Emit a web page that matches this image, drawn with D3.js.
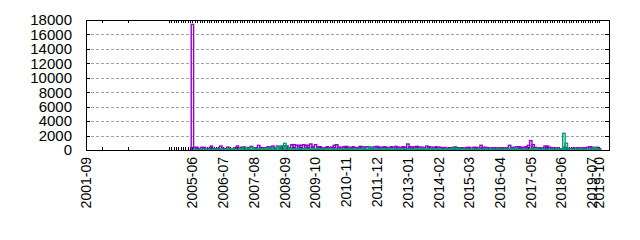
<!DOCTYPE html>
<html>
<head>
<meta charset="utf-8">
<script src="https://cdn.jsdelivr.net/npm/d3@7"></script>
<style>
  body { margin: 0; background: #fff; }
  svg { display: block; font-family: "Liberation Sans", Arial, sans-serif; }
  .grid line { stroke: #a0a0a0; stroke-dasharray: 3,2; shape-rendering: crispEdges; }
  .axis path { display: none; }
  .axis line { stroke: #000; shape-rendering: crispEdges; }
</style>
</head>
<body>
<svg id="chart"></svg>
<script>
// sparse early points, then one point per month from 2004-08 to 2019-10
var earlyMonths = ["2001-09", "2002-04", "2003-03"],
    monthlyFrom = "2004-08",
    monthlyTo   = "2019-10";

var tickLabels = ["2001-09", "2005-06", "2006-07", "2007-08", "2008-09", "2009-10",
                  "2010-11", "2011-12", "2013-01", "2014-02", "2015-03", "2016-04",
                  "2017-05", "2018-06", "2019-07", "2019-10"];

var yTicks = [0, 2000, 4000, 6000, 8000, 10000, 12000, 14000, 16000, 18000];

// purple series, early points then one row per year
var seriesA = [0, 0, 0,
  0, 0, 0, 0, 0,                                                       // 2004 (08-12)
  0, 0, 0, 0, 0, 17400, 370, 370, 180, 370, 370, 180,                  // 2005
  250, 550, 200, 180, 250, 550, 220, 200, 400, 180, 150, 300,          // 2006
  550, 250, 400, 300, 200, 350, 500, 200, 300, 640, 350, 300,          // 2007
  300, 450, 400, 550, 300, 550, 400, 550, 550, 450, 300, 740,          // 2008
  740, 650, 650, 650, 740, 650, 650, 830, 450, 740, 450, 450,          // 2009
  300, 300, 450, 350, 400, 650, 740, 400, 350, 450, 500, 400,          // 2010
  350, 450, 300, 350, 500, 450, 400, 450, 400, 350, 450, 500,          // 2011
  400, 350, 450, 400, 300, 450, 400, 500, 400, 350, 450, 400,          // 2012
  830, 450, 400, 450, 500, 400, 400, 300, 550, 450, 400, 350,          // 2013
  450, 400, 370, 300, 350, 200, 300, 350, 280, 200, 300, 300,          // 2014
  280, 350, 370, 250, 370, 370, 280, 650, 370, 370, 280, 280,          // 2015
  280, 280, 280, 280, 280, 280, 280, 650, 370, 370, 460, 460,          // 2016
  370, 370, 460, 640, 1300, 740, 370, 280, 280, 280, 550, 550,         // 2017
  370, 280, 280, 280, 180, 180, 370, 370, 200, 200, 280, 280,          // 2018
  280, 280, 280, 280, 370, 460, 370, 280, 370, 200];                   // 2019 (01-10)

// teal series, same layout
var seriesB = [0, 0, 0,
  0, 0, 0, 0, 0,
  0, 0, 0, 0, 0, 0, 60, 60, 80, 100, 100, 100,
  100, 80, 100, 120, 100, 150, 100, 100, 120, 200, 150, 100,
  100, 150, 200, 460, 200, 150, 350, 200, 150, 200, 100, 200,
  150, 250, 300, 200, 300, 400, 500, 600, 920, 600, 200, 150,
  150, 200, 150, 150, 200, 200, 150, 150, 200, 200, 150, 150,
  150, 150, 200, 150, 150, 200, 150, 200, 150, 150, 150, 200,
  150, 200, 150, 150, 200, 200, 250, 300, 370, 250, 200, 150,
  150, 150, 200, 150, 250, 200, 150, 150, 200, 150, 150, 200,
  150, 200, 150, 150, 200, 150, 250, 200, 150, 150, 200, 150,
  150, 150, 180, 100, 150, 100, 150, 150, 460, 200, 150, 150,
  100, 100, 100, 150, 100, 100, 150, 100, 100, 150, 100, 100,
  100, 100, 100, 100, 100, 100, 100, 280, 100, 280, 150, 100,
  100, 100, 100, 100, 100, 200, 200, 100, 100, 100, 100, 100,
  100, 100, 100, 100, 100, 150, 2300, 930, 150, 150, 100, 100,
  100, 150, 100, 100, 150, 100, 150, 370, 150, 100];

var width = 640, height = 240,
    margin = {top: 20, right: 31, bottom: 90, left: 86},
    innerWidth = width - margin.left - margin.right,
    innerHeight = height - margin.top - margin.bottom;

var parseMonth = d3.timeParse("%Y-%m");

var dates = earlyMonths.map(parseMonth)
  .concat(d3.timeMonth.range(parseMonth(monthlyFrom), d3.timeMonth.offset(parseMonth(monthlyTo), 1)));

var xScale = d3.scaleTime()
      .domain([parseMonth("2001-09"), parseMonth("2020-02")])
      .range([0, innerWidth]),
    yScale = d3.scaleLinear()
      .domain([0, 18000])
      .range([innerHeight, 0]);

var svg = d3.select("#chart")
    .attr("width", width)
    .attr("height", height)
  .append("g")
    .attr("transform", "translate(" + margin.left + "," + margin.top + ")");

// horizontal grid
svg.append("g")
  .attr("class", "grid")
  .call(d3.axisLeft(yScale).tickValues(yTicks).tickSize(-innerWidth).tickFormat(""))
  .call(function(g){ g.select(".domain").remove(); });

// tics first so the boxes sit on top of them
svg.append("g")
  .attr("class", "axis")
  .attr("transform", "translate(0," + innerHeight + ")")
  .call(d3.axisBottom(xScale).tickValues(dates).tickSize(-3).tickFormat(""));

svg.append("g")
  .attr("class", "axis")
  .call(d3.axisTop(xScale).tickValues(dates).tickSize(-3).tickFormat(""));

// box edges halfway between neighbouring points
function boxes(values) {
  return values.map(function(v, i) {
    var cx = xScale(dates[i]),
        left = i > 0 ? (cx + xScale(dates[i - 1])) / 2 : cx - (xScale(dates[1]) - cx) / 2,
        right = i < dates.length - 1 ? (cx + xScale(dates[i + 1])) / 2 : cx + (cx - xScale(dates[i - 1])) / 2;
    return {x0: left, x1: right, v: v};
  });
}

function drawSeries(values, color) {
  svg.append("g")
    .selectAll("rect")
    .data(boxes(values).filter(function(d){ return d.v > 0; }))
    .enter().append("rect")
      .attr("x", function(d){ return d.x0; })
      .attr("y", function(d){ return yScale(d.v); })
      .attr("width", function(d){ return d.x1 - d.x0; })
      .attr("height", function(d){ return innerHeight - yScale(d.v); })
      .attr("fill", "none")
      .attr("stroke", color)
      .attr("stroke-width", 1.4);
}

drawSeries(seriesA, "#9400d3");
drawSeries(seriesB, "#009e73");

// y axes with inward tics, mirrored on the right
svg.append("g")
  .attr("class", "axis")
  .call(d3.axisLeft(yScale).tickValues(yTicks).tickSize(-4).tickPadding(14).tickFormat(d3.format("d")))
  .selectAll("text")
    .style("font-size", "15px")
    .attr("fill", "#000");

svg.append("g")
  .attr("class", "axis")
  .attr("transform", "translate(" + innerWidth + ",0)")
  .call(d3.axisRight(yScale).tickValues(yTicks).tickSize(-4).tickFormat(""));

svg.append("g")
  .selectAll("text")
  .data(tickLabels)
  .enter().append("text")
    .attr("transform", function(d){
      return "translate(" + xScale(parseMonth(d)) + "," + (innerHeight + 7) + ") rotate(-90)";
    })
    .attr("dy", "0.35em")
    .attr("text-anchor", "end")
    .style("font-size", "14px")
    .text(function(d){ return d; });

// frame
svg.append("rect")
  .attr("x", 0.5)
  .attr("y", 0.5)
  .attr("width", innerWidth)
  .attr("height", innerHeight)
  .attr("fill", "none")
  .attr("stroke", "#000")
  .attr("shape-rendering", "crispEdges");
</script>
</body>
</html>
